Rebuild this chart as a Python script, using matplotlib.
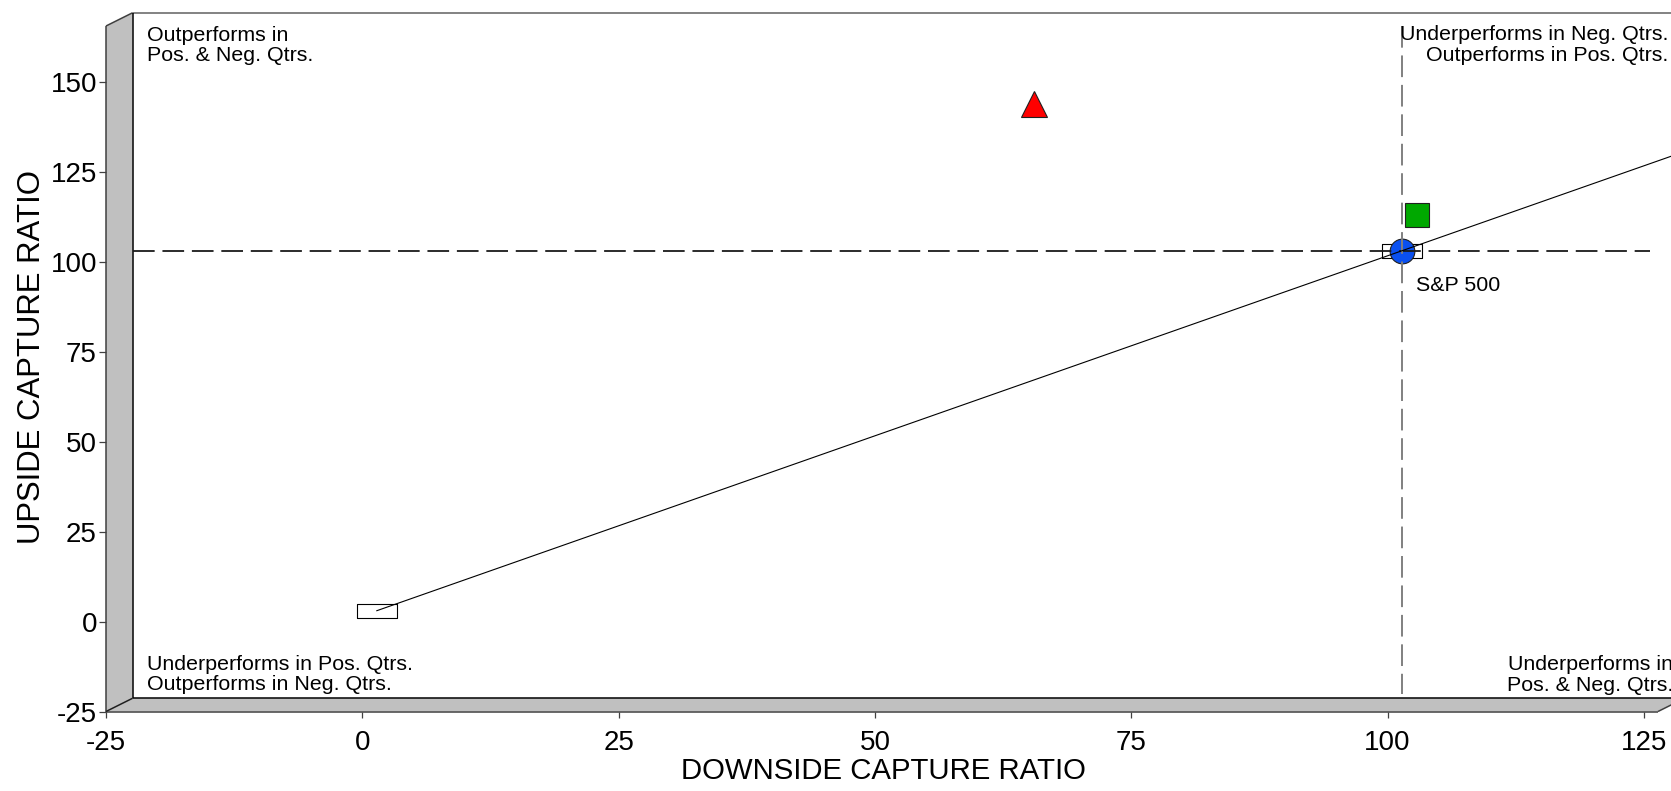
import matplotlib
matplotlib.use("Agg")
import matplotlib.pyplot as plt
from matplotlib.patches import Polygon
from matplotlib.transforms import ScaledTranslation

plt.rcParams['font.family'] = ['Liberation Sans', 'DejaVu Sans']
plt.rcParams['axes.unicode_minus'] = False
plt.rcParams['lines.scale_dashes'] = False

# ---------------- data ----------------
x_ticks = [-25, 0, 25, 50, 75, 100, 125]
y_ticks = [-25, 0, 25, 50, 75, 100, 125, 150]

fund_a_down = [64.1]     # red triangle
fund_a_up = [140.7]
fund_b_down = [101.45]   # green square
fund_b_up = [109.9]
bench_down = [100.0]     # S&P 500 (blue circle)
bench_up = [100.0]
bench_label = "S&P 500"
anchor_down = [0.0, 100.0]   # white rectangles on the market line
anchor_up = [0.0, 100.0]
market_line_down = [0.0, 135.0]
market_line_up = [0.0, 135.0]
ref_down = 100.0
ref_up = 100.0

quad_tl = ["Outperforms in", "Pos. & Neg. Qtrs."]
quad_tr = ["Underperforms in Neg. Qtrs.", "Outperforms in Pos. Qtrs."]
quad_bl = ["Underperforms in Pos. Qtrs.", "Outperforms in Neg. Qtrs."]
quad_br = ["Underperforms in", "Pos. & Neg. Qtrs."]
x_label = "DOWNSIDE CAPTURE RATIO"
y_label = "UPSIDE CAPTURE RATIO"

# ---------------- layout ----------------
W, H, DPI = 1671, 791, 100
fig = plt.figure(figsize=(W / DPI, H / DPI), dpi=DPI)
fig.patch.set_facecolor("white")

L, R, T, B = 106, 1658, 26, 711.5
ax = fig.add_axes([L / W, (H - B) / H, (R - L) / W, (B - T) / H])
XPX, YPX = 10.253, 3.6   # pixels per unit
xmin, ymin = -25, -25
xmax = xmin + (R - L) / XPX
ymax = ymin + (B - T) / YPX
ax.set_xlim(xmin, xmax)
ax.set_ylim(ymin, ymax)
ax.patch.set_visible(False)
for s in ax.spines.values():
    s.set_visible(False)

# 3D frame
ddx = 26.7 / XPX
ddy = 13.3 / YPX
wall = "#c0c0c0"
left_wall = Polygon([(xmin, ymin), (xmin, ymax), (xmin + ddx, ymax + ddy), (xmin + ddx, ymin + ddy)],
                    closed=True, fc=wall, ec="none", clip_on=False, zorder=0)
floor = Polygon([(xmin, ymin), (xmax, ymin), (xmax + ddx, ymin + ddy), (xmin + ddx, ymin + ddy)],
                closed=True, fc=wall, ec="none", clip_on=False, zorder=0)
ax.add_patch(left_wall)
ax.add_patch(floor)
ext = xmax + ddx + 5
edges = [
    ([xmin, xmin], [ymin, ymax], "#404040"),
    ([xmin, xmin + ddx], [ymax, ymax + ddy], "#404040"),
    ([xmin + ddx, ext], [ymax + ddy, ymax + ddy], "#606060"),
    ([xmin + ddx, xmin + ddx], [ymin + ddy, ymax + ddy], "#000000"),
    ([xmin + ddx, ext], [ymin + ddy, ymin + ddy], "#000000"),
    ([xmin, xmax], [ymin, ymin], "#404040"),
    ([xmax, xmax + ddx], [ymin, ymin + ddy], "#404040"),
    ([xmin, xmin + ddx], [ymin, ymin + ddy], "#202020"),
]
for xs, ys, c in edges:
    ax.plot(xs, ys, color=c, lw=1.1, clip_on=False, zorder=1, solid_capstyle="butt")

# ticks
ax.set_xticks(x_ticks)
ax.set_xticklabels([str(v) for v in x_ticks])
ax.set_yticks(y_ticks)
ax.set_yticklabels([str(v) for v in y_ticks])
ax.tick_params(axis="x", direction="out", length=4.5, width=0.9, color="#404040",
               pad=8.5, labelsize=20)
ax.tick_params(axis="y", direction="out", length=5, width=0.9, color="#404040",
               pad=1.5, labelsize=20)

# plotting plane (slightly behind the front frame)
plane = ax.transData + ScaledTranslation(14.5 / DPI, 10.8 / DPI, fig.dpi_scale_trans)

# reference dashed lines
hx0 = (133 - 14.5 - 362) / XPX
hx1 = (1650 - 14.5 - 362) / XPX
vy0 = (621 - 10.8 - 693) / YPX
vy1 = (621 - 10.8 - 25) / YPX
ax.plot([hx0, hx1], [ref_up, ref_up], transform=plane, color="#1a1a1a", lw=1.3,
        dashes=(15.6, 5.6), clip_on=False, zorder=6)
ax.plot([ref_down, ref_down], [vy1, vy0], transform=plane, color="#808080", lw=1.4,
        dashes=(15.6, 5.6), clip_on=False, zorder=6)

# market line
ax.plot(market_line_down, market_line_up, transform=plane, color="black", lw=0.8,
        clip_on=False, zorder=6)

# anchor rectangles
rect_marker = [(-1, -0.33), (1, -0.33), (1, 0.33), (-1, 0.33), (-1, -0.33)]
ax.plot(anchor_down, anchor_up, transform=plane, ls="none", marker=rect_marker,
        ms=28.8, mfc="white", mec="black", mew=0.8, clip_on=False, zorder=3)

# series
ax.plot(bench_down, bench_up, transform=plane, ls="none", marker="o", ms=17.8,
        mfc="#0a50f0", mec="#202020", mew=0.8, zorder=4)
ax.plot(fund_b_down, fund_b_up, transform=plane, ls="none", marker="s", ms=17.6,
        mfc="#00a800", mec="#202020", mew=0.8, zorder=7)
ax.plot(fund_a_down, fund_a_up, transform=plane, ls="none", marker="^", ms=19.4,
        mfc="#ff0000", mec="#202020", mew=0.8, zorder=7)

# text helpers (pixel positions -> figure fraction)
def fx(px):
    return px / W

def fy(py):
    return 1 - py / H

fig.text(fx(1416), fy(291), bench_label, fontsize=15.4, ha="left", va="baseline")

# quadrant labels, one text per line
qkw = dict(fontsize=15.4, va="baseline")
for line, yb in zip(quad_tl, [41, 61]):
    fig.text(fx(146.7), fy(yb), line, ha="left", **qkw)
for line, yb in zip(quad_tr, [40.5, 61]):
    fig.text(fx(1668.5), fy(yb), line, ha="right", **qkw)
for line, yb in zip(quad_bl, [669.5, 690.5]):
    fig.text(fx(146.7), fy(yb), line, ha="left", **qkw)
for line, yb in zip(quad_br, [669.5, 691]):
    fig.text(fx(1673), fy(yb), line, ha="right", **qkw)

# axis titles
fig.text(fx(883.5), fy(779), x_label, fontsize=21.2, ha="center", va="baseline")
fig.text(fx(17.5), fy(357), y_label, fontsize=22.4, ha="left", va="center", rotation=90)

fig.savefig("out.png", dpi=DPI, facecolor="white")
